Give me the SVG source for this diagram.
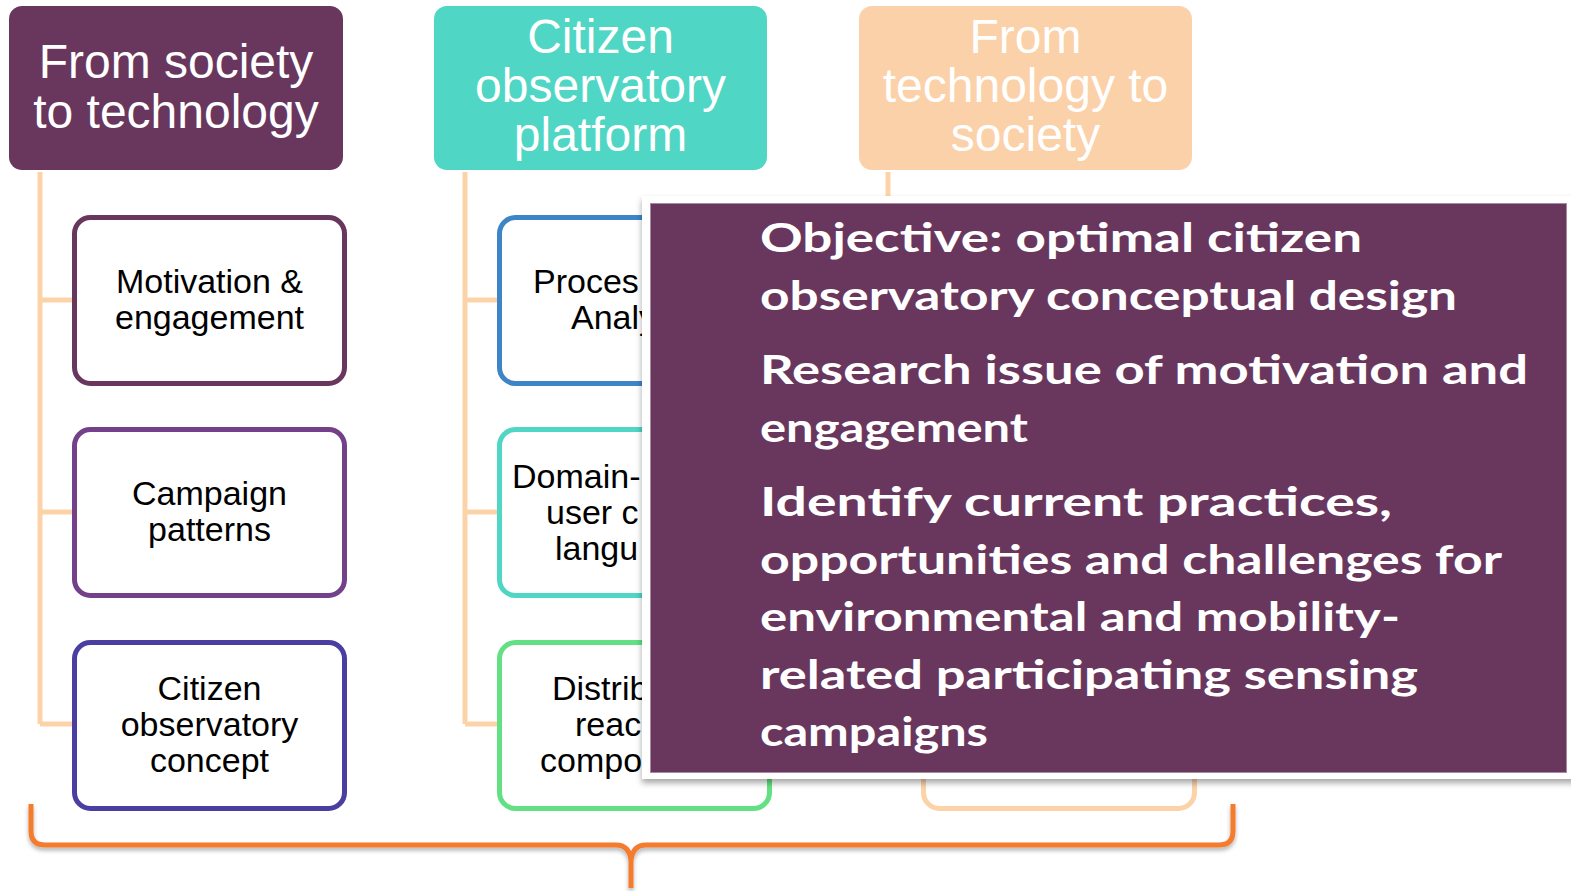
<svg xmlns="http://www.w3.org/2000/svg" width="1571" height="891" viewBox="0 0 1571 891">
<defs>
<style>
.hdr{font-family:"Liberation Sans",Arial,sans-serif;font-size:48px;fill:#fff;text-anchor:middle}
.lbl{font-family:"Liberation Sans",Arial,sans-serif;font-size:34px;fill:#000;text-anchor:middle}
.cut{font-family:"Liberation Sans",Arial,sans-serif;font-size:34px;fill:#000}
.box{fill:#fff;stroke-width:5}
.conn{stroke:#FCD3A9;stroke-width:5;fill:none}
.ov{font-family:"Comic Sans MS","Lato","DejaVu Sans",sans-serif;font-weight:bold;font-size:40px;fill:#fff}
</style>
<filter id="sh" x="-5%" y="-5%" width="110%" height="115%">
<feDropShadow dx="0" dy="4" stdDeviation="3" flood-color="#000" flood-opacity="0.35"/>
</filter>
<filter id="bsh" x="-5%" y="-20%" width="110%" height="140%">
<feDropShadow dx="0" dy="3" stdDeviation="2" flood-color="#000" flood-opacity="0.3"/>
</filter>
</defs>

<g id="connectors">
<path class="conn" d="M40 172 V724 M40 300 H72 M40 512 H72 M40 724 H72"/>
<path class="conn" d="M465 172 V724 M465 300 H497 M465 512 H497 M465 724 H497"/>
<path class="conn" d="M888 172 V240"/>
</g>

<g id="header1">
<rect x="9" y="6" width="334" height="164" rx="13" fill="#69375E"/>
<text class="hdr" x="176" y="78">From society</text>
<text class="hdr" x="176" y="128">to technology</text>
</g>
<g id="header2">
<rect x="434" y="6" width="333" height="164" rx="13" fill="#4FD6C4"/>
<text class="hdr" x="600.5" y="53">Citizen</text>
<text class="hdr" x="600.5" y="102">observatory</text>
<text class="hdr" x="600.5" y="151">platform</text>
</g>
<g id="header3">
<rect x="859" y="6" width="333" height="164" rx="13" fill="#FBD1A9"/>
<text class="hdr" x="1025.5" y="53">From</text>
<text class="hdr" x="1025.5" y="102">technology to</text>
<text class="hdr" x="1025.5" y="151">society</text>
</g>

<g id="box-motivation">
<rect class="box" x="74.5" y="217.5" width="270" height="166" rx="16" stroke="#69375E"/>
<text class="lbl" x="209.5" y="293">Motivation &amp;</text>
<text class="lbl" x="209.5" y="329">engagement</text>
</g>
<g id="box-campaign">
<rect class="box" x="74.5" y="429.5" width="270" height="166" rx="16" stroke="#734089"/>
<text class="lbl" x="209.5" y="505">Campaign</text>
<text class="lbl" x="209.5" y="541">patterns</text>
</g>
<g id="box-concept">
<rect class="box" x="74.5" y="642.5" width="270" height="166" rx="16" stroke="#4A3FA0"/>
<text class="lbl" x="209.5" y="700">Citizen</text>
<text class="lbl" x="209.5" y="736">observatory</text>
<text class="lbl" x="209.5" y="772">concept</text>
</g>

<g id="box-process">
<rect class="box" x="499.5" y="217.5" width="270" height="166" rx="16" stroke="#3D85C6"/>
<text class="cut" x="533" y="293">Proces</text>
<text class="cut" x="571" y="329">Analy</text>
</g>
<g id="box-domain">
<rect class="box" x="499.5" y="429.5" width="270" height="166" rx="16" stroke="#4FD6C4"/>
<text class="cut" x="512" y="488">Domain-</text>
<text class="cut" x="546" y="524">user c</text>
<text class="cut" x="555" y="560">langu</text>
</g>
<g id="box-distrib">
<rect class="box" x="499.5" y="642.5" width="270" height="166" rx="16" stroke="#63E083"/>
<text class="cut" x="552" y="700">Distrib</text>
<text class="cut" x="575" y="736">reac</text>
<text class="cut" x="540" y="772">compo</text>
</g>
<g id="box-col3">
<rect class="box" x="923.5" y="642.5" width="271" height="166" rx="16" stroke="#FCD3A9"/>
</g>

<g id="brace">
<path d="M31 804 V831 Q31 845 45 845 H616 Q629 845 631 860 V888 M631 860 Q633 845 646 845 H1219 Q1233 845 1233 831 V804" fill="none" stroke="#F47B2E" stroke-width="5" stroke-linejoin="round" filter="url(#bsh)"/>
</g>

<g id="objective-panel">
<rect x="642" y="196" width="935" height="583" fill="#fff" filter="url(#sh)"/>
<rect x="650.5" y="203.5" width="916" height="569" fill="#69375E" stroke="#A88BA1" stroke-width="1"/>
<text class="ov" x="760" y="252" textLength="602" lengthAdjust="spacingAndGlyphs">Objective: optimal citizen</text>
<text class="ov" x="760" y="309.5" textLength="697" lengthAdjust="spacingAndGlyphs">observatory conceptual design</text>
<text class="ov" x="760" y="384" textLength="768" lengthAdjust="spacingAndGlyphs">Research issue of motivation and</text>
<text class="ov" x="760" y="441.5" textLength="268" lengthAdjust="spacingAndGlyphs">engagement</text>
<text class="ov" x="760" y="516" textLength="632" lengthAdjust="spacingAndGlyphs">Identify current practices,</text>
<text class="ov" x="760" y="573.5" textLength="742" lengthAdjust="spacingAndGlyphs">opportunities and challenges for</text>
<text class="ov" x="760" y="631" textLength="640" lengthAdjust="spacingAndGlyphs">environmental and mobility-</text>
<text class="ov" x="760" y="688.5" textLength="658" lengthAdjust="spacingAndGlyphs">related participating sensing</text>
<text class="ov" x="760" y="746" textLength="228" lengthAdjust="spacingAndGlyphs">campaigns</text>
</g>
</svg>
